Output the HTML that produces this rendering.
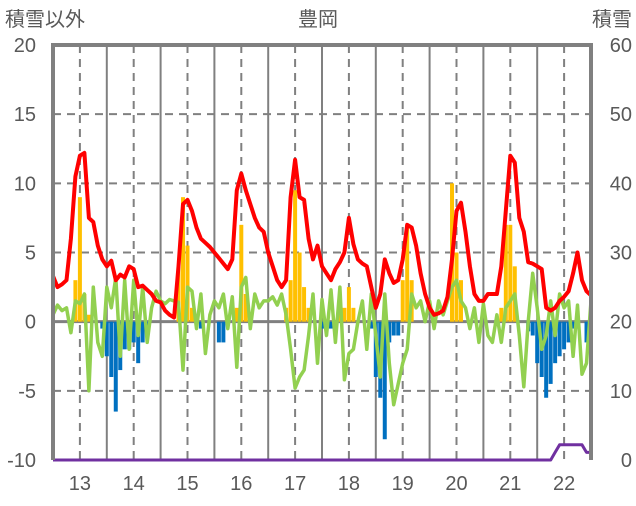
<!DOCTYPE html>
<html><head><meta charset="utf-8">
<style>
body{margin:0;background:#fff;}
svg text{font-family:"Liberation Sans","Noto Sans CJK JP",sans-serif;fill:#595959;}
</style></head>
<body>
<svg id="chart" width="636" height="501" viewBox="0 0 636 501" xmlns="http://www.w3.org/2000/svg">
<text x="5" y="26" font-size="20">積雪以外</text>
<text x="318" y="26" font-size="20" text-anchor="middle">豊岡</text>
<text x="632" y="26" font-size="20" text-anchor="end">積雪</text>
<g id="grid"></g>
<g id="bars"></g>
<g id="lines"></g>
<g id="axes"></g>
</svg>
<script>
const leftTicks=[20,15,10,5,0,-5,-10];
const rightTicks=[60,50,40,30,20,10,0];
const yearLabels=["13","14","15","16","17","18","19","20","21","22"];
const redSeries=[3.3,2.5,2.7,3.0,6.0,10.5,12.0,12.2,7.5,7.2,5.5,4.5,
4.0,4.4,3.0,3.4,3.2,4.0,3.8,2.5,2.6,2.3,2.0,1.5,
1.4,0.8,0.5,0.3,4.0,8.5,8.8,8.0,6.8,6.0,5.7,5.4,
5.0,4.6,4.2,3.8,4.5,9.5,10.7,9.5,8.5,7.5,6.8,6.5,
5.0,4.0,3.0,2.5,3.0,9.0,11.7,9.0,8.8,6.0,4.5,5.5,
4.0,3.5,3.0,3.8,4.3,5.0,7.5,5.6,4.5,4.2,4.0,2.5,
1.0,2.0,4.5,3.5,2.8,3.0,4.5,7.0,6.8,5.5,3.5,2.0,
1.0,0.5,0.6,0.8,1.8,4.5,8.0,8.6,6.5,4.0,2.0,1.5,
1.5,2.0,2.0,2.0,4.0,8.0,12.0,11.5,7.5,6.5,4.3,4.2,
4.0,3.8,1.0,0.8,1.0,1.5,1.8,2.2,3.5,5.0,3.0,2.2,1.9];
const greenSeries=[0.5,1.2,0.8,1.0,-0.8,1.5,1.3,2.0,-5.0,2.5,-1.5,-2.5,
2.5,1.0,3.2,-2.5,3.0,-2.0,3.0,-1.0,2.5,-1.5,1.0,2.2,
1.5,1.3,1.6,1.5,1.4,-3.5,2.5,2.2,-0.5,2.0,-2.3,0.5,
1.5,1.0,2.0,-0.5,1.8,-3.3,2.5,3.2,-0.5,2.0,1.0,1.5,
1.5,1.8,1.2,2.0,0.5,-2.0,-4.8,-4.0,-3.5,-1.0,2.0,-3.0,
1.6,-1.0,2.3,-1.5,2.5,-4.2,-2.3,-2.0,0,1.5,-2.0,2.0,
-1.0,-4.0,2.0,-3.0,-6.0,-4.5,-3.0,-2.0,2.0,1.0,1.5,0,
1.5,-0.5,1.5,0.5,1.5,2.5,3.0,1.5,1.0,-0.5,1.0,-1.5,
1.3,-1.0,-1.5,0.5,-1.5,1.0,1.5,2.0,-1.0,-4.7,0,3.5,
1.0,-2.0,-1.0,1.5,-1.0,2.0,1.0,1.5,-2.5,1.2,-3.8,-3.0,1.5];
const barSeries=[0,0,0,0,0,3.0,9.0,2.0,0.5,0,0,-0.5,
-2.5,-4.0,-6.5,-3.5,-2.0,-2.0,-1.5,-3.0,-1.5,-0.5,0,0,
0,0,0,0,4.0,9.0,5.5,1.0,0,-0.5,0,0,
0,-1.5,-1.5,0,0,1.0,7.0,2.0,0,0,0,0,
0,0,0,0,1.0,3.0,9.5,5.0,2.5,1.0,0,0,
-0.5,0,-0.5,-1.0,1.0,1.0,2.5,1.0,0,0,0,-0.5,
-4.0,-5.5,-8.5,-1.5,-1.0,-1.0,3.0,7.0,3.0,0,0,0,
0,0,0,0,0,10.0,5.0,3.0,0,0,0,0,
0,0,0,0,1.0,7.0,7.0,4.0,0,0,-0.7,-1.0,
-3.0,-4.0,-5.5,-4.5,-3.0,-2.5,-2.0,-1.5,-0.5,0.8,0,-1.5,0];
const snowSeries=[0,0,0,0,0,0,0,0,0,0,0,0,0,0,0,0,0,0,0,0,0,0,0,0,
0,0,0,0,0,0,0,0,0,0,0,0,0,0,0,0,0,0,0,0,0,0,0,0,
0,0,0,0,0,0,0,0,0,0,0,0,0,0,0,0,0,0,0,0,0,0,0,0,
0,0,0,0,0,0,0,0,0,0,0,0,0,0,0,0,0,0,0,0,0,0,0,0,
0,0,0,0,0,0,0,0,0,0,0,0,0,0,0,0,1.1,2.2,2.2,2.2,2.2,2.2,2.2,1.1,1.1];

const X0=53,X1=591,Y0=45,Y1=460;
const N=redSeries.length;
const step=(X1-X0)/(N-1);
function xPos(i){return X0+i*step;}
function yL(v){return Y1-(v+10)*(Y1-Y0)/30;}
function yR(v){return Y1-v*(Y1-Y0)/60;}
const NS="http://www.w3.org/2000/svg";
function mk(tag,attrs,parent){const e=document.createElementNS(NS,tag);for(const k in attrs)e.setAttribute(k,attrs[k]);parent.appendChild(e);return e;}
const grid=document.getElementById('grid'),bars=document.getElementById('bars'),lines=document.getElementById('lines'),axes=document.getElementById('axes');

leftTicks.forEach(t=>{
  if(t!==0&&t!==20&&t!==-10){
    const l=mk('line',{x1:X0,x2:X1,y1:yL(t),y2:yL(t),stroke:'#808080','stroke-width':2,'stroke-dasharray':'8,6'},grid);
    
    
  }
  const tx=mk('text',{x:36,y:yL(t)+7,'font-size':20,'text-anchor':'end'},axes);
  tx.textContent=t;
  
  
});
rightTicks.forEach(t=>{
  const tx=mk('text',{x:632,y:yR(t)+7,'font-size':20,'text-anchor':'end'},axes);
  tx.textContent=t;
  
  
});
for(let i=0;i<N;i++){
  if(i%12===6){
    const l=mk('line',{x1:xPos(i),x2:xPos(i),y1:Y0,y2:Y1,stroke:'#808080','stroke-width':2,'stroke-dasharray':'8,6'},grid);
    
    
    const tx=mk('text',{x:xPos(i),y:490,'font-size':20,'text-anchor':'middle'},axes);
    tx.textContent=yearLabels[(i-6)/12];
    
    
  } else if(i%12===0 && i>0 && i<N-1){
    const l=mk('line',{x1:xPos(i),x2:xPos(i),y1:Y0,y2:Y1,stroke:'#808080','stroke-width':2},grid);
    
    
  }
}
barSeries.forEach((v,i)=>{
  if(v===0)return;
  const y=Math.min(yL(v),yL(0)),h=Math.abs(yL(v)-yL(0));
  const r=mk('rect',{x:xPos(i)-2,y:y,width:4,height:h,fill:v>0?'#ffc000':'#0070c0'},bars);
  
  
});
const z=mk('line',{x1:X0,x2:X1,y1:yL(0),y2:yL(0),stroke:'#808080','stroke-width':3},grid);


function path(arr,fy,color,w,name){
  const d=arr.map((v,i)=>(i?'L':'M')+xPos(i).toFixed(1)+','+fy(v).toFixed(1)).join('');
  const p=mk('path',{d:d,fill:'none',stroke:color,'stroke-width':w,'stroke-linejoin':'round'},lines);
  
  
}
path(greenSeries,yL,'#92d050',3.5,'green-line');
path(redSeries,yL,'#ff0000',4,'red-line');
path(snowSeries,yR,'#7030a0',3,'snow-line');
const b=mk('path',{d:`M${X0},${Y1}L${X0},${Y0}L${X1},${Y0}L${X1},${Y1}`,fill:'none',stroke:'#808080','stroke-width':4},axes);


</script>
</body></html>
